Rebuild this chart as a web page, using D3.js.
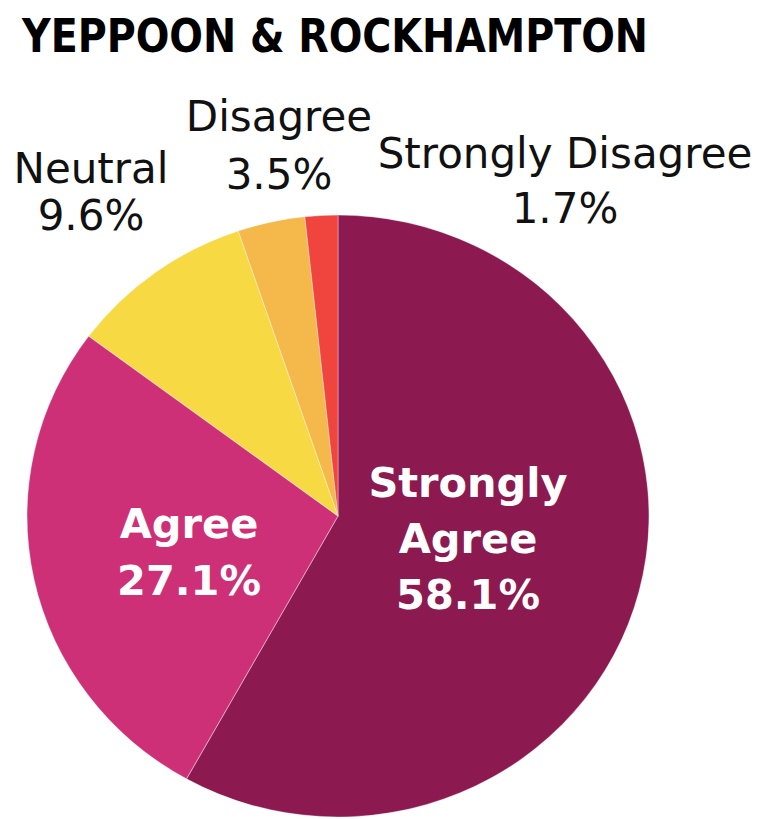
<!DOCTYPE html>
<html>
<head>
<meta charset="utf-8">
<script src="https://cdn.jsdelivr.net/npm/d3@7"></script>
<style>
  html, body { margin: 0; padding: 0; background: #ffffff; }
  svg { display: block; }
</style>
</head>
<body>
<script>
const title = "YEPPOON & ROCKHAMPTON";
const categories = ["Strongly Agree", "Agree", "Neutral", "Disagree", "Strongly Disagree"];
const values = [58.1, 27.1, 9.6, 3.5, 1.7];
const colors = ["#8C194F", "#CD3077", "#F7D944", "#F5B84B", "#F0453F"];
const labelLines = [["Strongly", "Agree", "58.1%"], ["Agree", "27.1%"], ["Neutral", "9.6%"], ["Disagree", "3.5%"], ["Strongly Disagree", "1.7%"]];

const W = 762, H = 819;
const cx = 338, cy = 516, R = 301, sx = 1.033;

// label layout (centre x, first baseline y, line step, inside?)
const labelLayout = [
  { x: 468, y: 497, step: 56, inside: true },
  { x: 189, y: 538, step: 57, inside: true },
  { x: 91, y: 183, step: 47, inside: false },
  { x: 279, y: 131, step: 58, inside: false },
  { x: 565, y: 168, step: 55, inside: false }
];

const svg = d3.select("body").append("svg").attr("width", W).attr("height", H);

svg.append("text")
  .attr("x", 22).attr("y", 52)
  .attr("font-family", "'DejaVu Sans Condensed', 'DejaVu Sans'")
  .attr("font-weight", "bold")
  .attr("font-size", 47)
  .attr("textLength", 626)
  .attr("lengthAdjust", "spacingAndGlyphs")
  .attr("fill", "#000")
  .text(title);

const data = categories.map((c, i) => ({ cat: c, value: values[i], color: colors[i], lines: labelLines[i] }));

const pie = d3.pie().sort(null).value(d => d.value);
const arc = d3.arc().innerRadius(0).outerRadius(R);

const g = svg.append("g").attr("transform", `translate(${cx},${cy}) scale(${sx},1)`);
g.selectAll("path").data(pie(data)).join("path")
  .attr("d", arc)
  .attr("fill", d => d.data.color)
  .attr("stroke", "#ffffff")
  .attr("stroke-opacity", 0.35)
  .attr("stroke-width", 1);

data.forEach((d, i) => {
  const L = labelLayout[i];
  const t = svg.append("text")
    .attr("text-anchor", "middle")
    .attr("font-family", "'DejaVu Sans', Verdana, sans-serif")
    .attr("font-weight", L.inside ? "bold" : "normal")
    .attr("font-size", L.inside ? 41.5 : 42)
    .attr("fill", L.inside ? "#ffffff" : "#111111");
  d.lines.forEach((line, k) => {
    t.append("tspan").attr("x", L.x).attr("y", L.y + k * L.step).text(line);
  });
});
</script>
</body>
</html>
